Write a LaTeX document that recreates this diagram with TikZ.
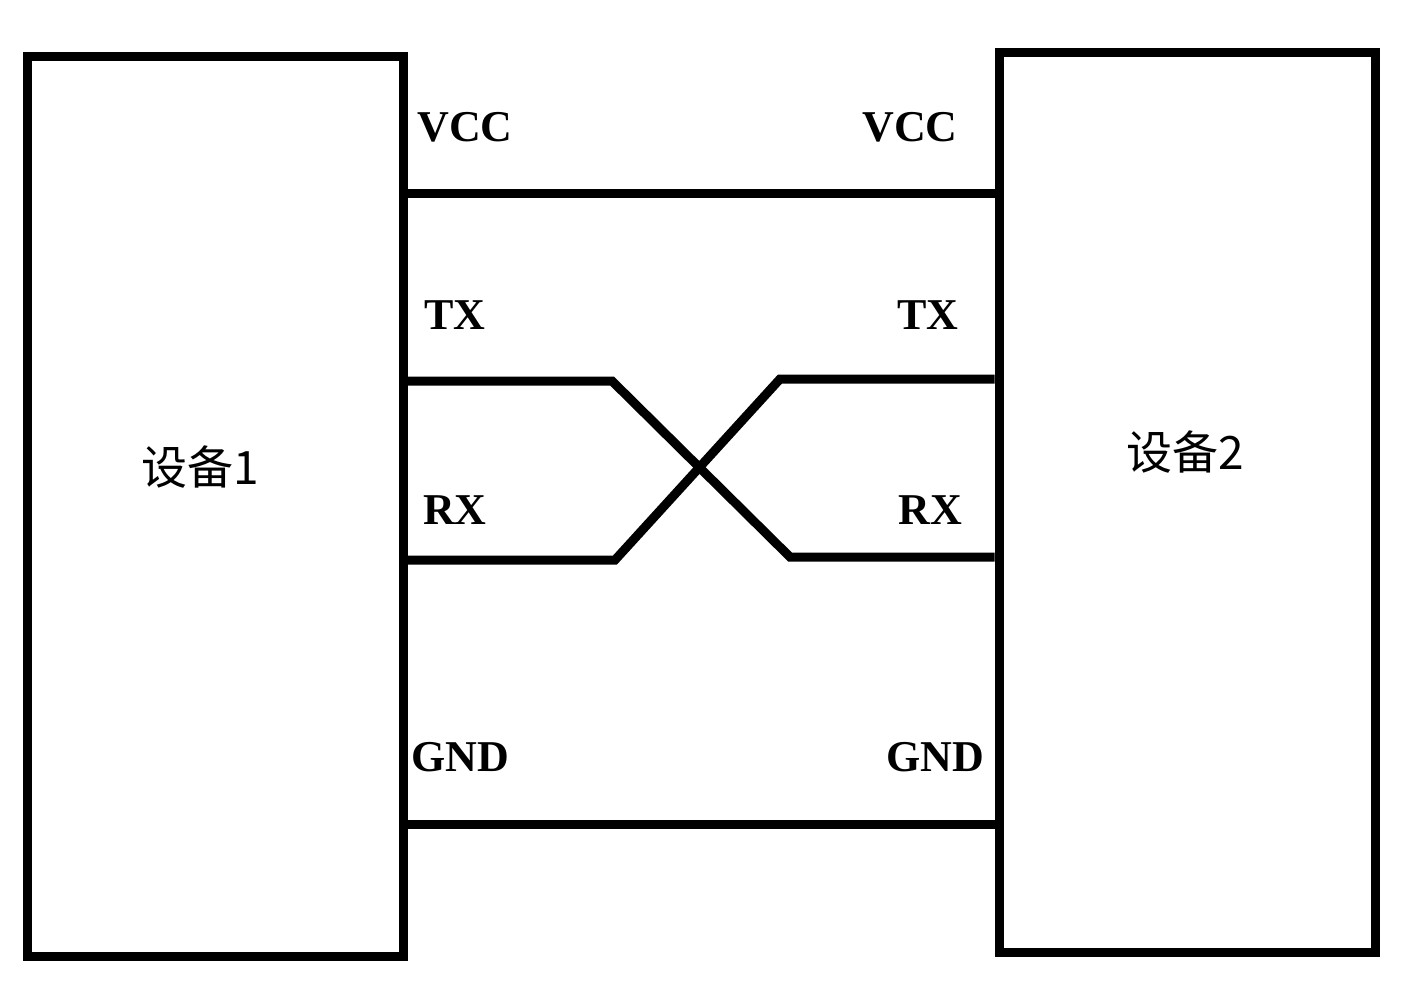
\documentclass[tikz,border=0pt]{standalone}
\usepackage{fontspec}
\setmainfont{Liberation Serif}
\newfontfamily\cjk{Noto Sans CJK SC}
\begin{document}
\begin{tikzpicture}[x=1pt,y=-1pt,
  box/.style={draw,line width=9pt,minimum width=376pt,minimum height=900pt,inner sep=0pt},
  wire/.style={line width=9pt,line join=miter},
  lbl/.style={font=\fontsize{44}{44}\selectfont\bfseries,inner sep=0pt},
  dev/.style={font=\cjk\fontsize{46}{46}\selectfont,inner sep=0pt}]
\useasboundingbox (0,0) rectangle (1409,988);
\node[box] (d1) at (215,506) {};
\node[box] (d2) at (1187,502) {};
\node[dev] at (200,467) {设备1};
\node[dev] at (1185,452) {设备2};
\node[lbl] at (465,127) {VCC};
\node[lbl] at (910,127) {VCC};
\node[lbl] at (455,315) {TX};
\node[lbl] at (928,315) {TX};
\node[lbl] at (455,510) {RX};
\node[lbl] at (930,510) {RX};
\node[lbl] at (460,757) {GND};
\node[lbl] at (935,757) {GND};
\coordinate (a1) at (612,381); \coordinate (a2) at (790,557);
\coordinate (b1) at (780,379); \coordinate (b2) at (615,560);
\draw[wire] (d1.east |- 0,193) -- (d2.west |- 0,193);
\draw[wire] (d1.east |- 0,381) -- (a1) -- (a2) -- (d2.west |- a2);
\draw[wire] (d2.west |- b1) -- (b1) -- (b2) -- (d1.east |- b2);
\draw[wire] (d1.east |- 0,824) -- (d2.west |- 0,824);
\end{tikzpicture}
\end{document}
